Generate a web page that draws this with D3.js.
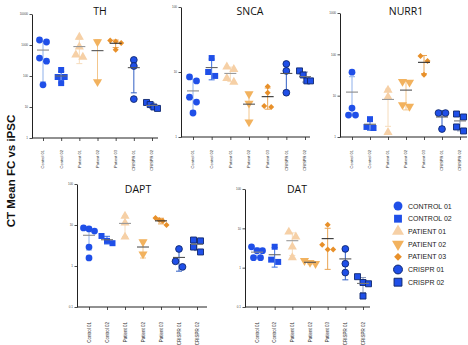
<!DOCTYPE html>
<html>
<head>
<meta charset="utf-8">
<script src="https://cdn.jsdelivr.net/npm/d3@7"></script>
<style>
  body { margin: 0; background: #fff; }
  svg { display: block; font-family: "Liberation Sans", Arial, sans-serif; }
</style>
</head>
<body>
<svg id="chart" width="468" height="345"></svg>
<script>
const groups = ["Control 01", "Control 02", "Patient 01", "Patient 02", "Patient 03", "CRISPR 01", "CRISPR 02"];
const legendLabels = ["CONTROL 01", "CONTROL 02", "PATIENT 01", "PATIENT 02", "PATIENT 03", "CRISPR 01", "CRISPR 02"];

const thValues = [
  [1450, 1250, 380, 300, 52],
  [156, 93, 93, 59],
  [1800, 870, 480, 410],
  [1250, 65],
  [1400, 1300, 1150, 700],
  [330, 210, 18],
  [14, 12, 10, 9]
];
const thTicks = [1, 10, 100, 1000, 10000];

const sncaValues = [
  [8.4, 7.3, 4.1, 3.45, 2.34],
  [16.4, 10, 8.7],
  [12, 11, 8, 7],
  [4.6, 3.3, 1.7],
  [6.0, 4.8, 3.0, 2.9],
  [13.3, 10.4, 4.8],
  [10.4, 9.0, 7.3, 7.3]
];
const sncaTicks = [1, 10, 100];

const nurr1Values = [
  [37, 5.0, 3.4, 3.4],
  [2.7, 1.75, 1.65],
  [13.7, 9.3, 1.3],
  [22, 21, 6, 5.5],
  [91, 69, 32],
  [3.8, 3.8, 1.56],
  [3.6, 3.05, 1.75, 1.4]
];
const nurr1Ticks = [1, 10, 100, 1000];

const daptValues = [
  [8.5, 8, 7.1, 2.9, 1.57],
  [5.4, 4.1, 3.6],
  [16.5, 11.2, 5.1],
  [3.85, 1.96],
  [14.8, 13.2, 12.5, 10],
  [2.6, 1.3, 0.95],
  [4.3, 4.1, 2.9, 2.2]
];
const daptTicks = [0.1, 1, 10, 100];

const datValues = [
  [3.4, 2.7, 2.7, 1.8, 1.8],
  [3.4, 1.6, 1.4],
  [8.1, 6.1, 3.4, 1.8],
  [1.5, 1.35, 1.26],
  [12.3, 3.8, 2.9, 2.9],
  [3.0, 1.26, 0.75],
  [0.59, 0.42, 0.39, 0.19]
];
const datTicks = [0.1, 1, 10, 100];

// per-group marker styling
const styles = [
  { shape: d3.symbolCircle,   fill: "#1f4fe8", stroke: "none",    bar: "#8fb0ea", mean: "#8a8a8a" },
  { shape: d3.symbolSquare,   fill: "#1f4fe8", stroke: "none",    bar: "#3a6ee0", mean: "#666" },
  { shape: d3.symbolTriangle, fill: "#f6d0a6", stroke: "none",    bar: "#f6dcbc", mean: "#9a9a9a" },
  { shape: d3.symbolTriangle, fill: "#f2b25e", stroke: "none",    bar: "#f3c68c", mean: "#555", rot: 180 },
  { shape: d3.symbolSquare,   fill: "#e8902a", stroke: "none",    bar: "#e9a454", mean: "#333", rot: 45, small: true },
  { shape: d3.symbolCircle,   fill: "#1f4fe8", stroke: "#10286e", bar: "#3260c4", mean: "#555" },
  { shape: d3.symbolSquare,   fill: "#1f4fe8", stroke: "#10286e", bar: "#8a98b8", mean: "#777" }
];

// panel frames (layout only)
const panels = [
  { title: "TH",    values: thValues,    ticks: thTicks,    ax: 32,  x0: 43,  x1: 152, xe: 158, yt: 14,  yb: 138, tx: 100, ty: 15,  lab: 12, lfs: 4 },
  { title: "SNCA",  values: sncaValues,  ticks: sncaTicks,  ax: 181, x0: 193, x1: 305, xe: 310, yt: 7,   yb: 137, tx: 250, ty: 15,  lab: 13, lfs: 4 },
  { title: "NURR1", values: nurr1Values, ticks: nurr1Ticks, ax: 340, x0: 352, x1: 460, xe: 467, yt: 13,  yb: 137, tx: 406, ty: 15,  lab: 13, lfs: 4 },
  { title: "DAPT",  values: daptValues,  ticks: daptTicks,  ax: 77,  x0: 89,  x1: 197, xe: 207, yt: 184, yb: 307, tx: 138, ty: 193, lab: 15, lfs: 4.5 },
  { title: "DAT",   values: datValues,   ticks: datTicks,   ax: 245, x0: 257, x1: 363, xe: 370, yt: 189, yb: 307, tx: 297, ty: 193, lab: 15, lfs: 4.5 }
];

const svg = d3.select("#chart");
const sym = d3.symbol();

function jitter(vals, y) {
  // spread points sitting close together in y, within a narrow column
  const idx = vals.map((v, i) => i).sort((a, b) => y(vals[a]) - y(vals[b]));
  const off = new Array(vals.length).fill(0);
  let cluster = [idx[0]];
  const flush = () => {
    const k = cluster.length;
    const step = k > 1 ? Math.min(7, 11 / (k - 1)) : 0;
    cluster.forEach((id, j) => { off[id] = (j - (k - 1) / 2) * step; });
  };
  for (let i = 1; i < idx.length; i++) {
    if (y(vals[idx[i]]) - y(vals[idx[i - 1]]) < 6) cluster.push(idx[i]);
    else { flush(); cluster = [idx[i]]; }
  }
  flush();
  return off;
}

function markTransform(s, px, py) {
  return `translate(${px},${py})${s.rot ? ` rotate(${s.rot})` : ""}`;
}

panels.forEach(p => {
  const g = svg.append("g");
  const x = d3.scalePoint().domain(groups).range([p.x0, p.x1]);
  const y = d3.scaleLog().domain([p.ticks[0], p.ticks[p.ticks.length - 1]]).range([p.yb, p.yt]);

  // y axis
  g.append("g")
    .attr("transform", `translate(${p.ax},0)`)
    .call(d3.axisLeft(y).tickValues(p.ticks).tickSize(2.5).tickSizeOuter(0).tickPadding(1.5).tickFormat(d => String(d)))
    .call(a => a.select(".domain").attr("stroke", "#222").attr("stroke-width", 1))
    .call(a => a.selectAll(".tick line").attr("stroke", "#222").attr("stroke-width", 0.8))
    .call(a => a.selectAll(".tick text").attr("font-size", 3).attr("fill", "#444"));

  // x axis
  g.append("line")
    .attr("x1", p.ax).attr("x2", p.xe).attr("y1", p.yb).attr("y2", p.yb)
    .attr("stroke", "#222").attr("stroke-width", 1);
  g.append("g")
    .attr("transform", `translate(0,${p.yb})`)
    .call(d3.axisBottom(x).tickSize(3).tickFormat(""))
    .call(a => a.select(".domain").remove())
    .call(a => a.selectAll(".tick line").attr("stroke", "#222").attr("stroke-width", 0.8));
  g.selectAll(".xlab").data(groups).join("text")
    .attr("transform", d => `translate(${x(d) + p.lfs * 0.35},${p.yb + p.lab}) rotate(-90)`)
    .attr("text-anchor", "end")
    .attr("font-size", p.lfs)
    .attr("fill", "#333")
    .text(d => d);

  // title
  g.append("text")
    .attr("x", p.tx).attr("y", p.ty)
    .attr("text-anchor", "middle")
    .attr("font-family", "'Open Sans', sans-serif")
    .attr("font-size", 10.5)
    .attr("fill", "#111")
    .text(p.title);

  // groups
  p.values.forEach((vals, gi) => {
    const s = styles[gi];
    const cx = x(groups[gi]);
    const mean = d3.mean(vals);
    const sd = vals.length > 1 ? d3.deviation(vals) : 0;
    const hi = mean + sd;
    const lo = mean - sd > 0 ? mean - sd : d3.min(vals);

    // error bar
    g.append("line").attr("x1", cx).attr("x2", cx).attr("y1", y(hi)).attr("y2", y(lo))
      .attr("stroke", s.bar).attr("stroke-width", 1);
    [hi, lo].forEach(v => {
      g.append("line").attr("x1", cx - 3).attr("x2", cx + 3).attr("y1", y(v)).attr("y2", y(v))
        .attr("stroke", s.bar).attr("stroke-width", 1);
    });

    // points
    const off = jitter(vals, y);
    g.selectAll(null).data(vals).join("path")
      .attr("d", sym.type(s.shape).size(s.small ? 18 : 36)())
      .attr("transform", (d, i) => markTransform(s, cx + off[i], y(d)))
      .attr("fill", s.fill)
      .attr("stroke", s.stroke)
      .attr("stroke-width", 0.9);

    // mean line
    g.append("line").attr("x1", cx - 6).attr("x2", cx + 6).attr("y1", y(mean)).attr("y2", y(mean))
      .attr("stroke", s.mean).attr("stroke-width", 1.1);
  });
});

// y label
svg.append("text")
  .attr("transform", "translate(15,171) rotate(-90)")
  .attr("text-anchor", "middle")
  .attr("font-weight", "bold")
  .attr("font-size", 11.5)
  .attr("fill", "#111")
  .text("CT Mean FC vs iPSC");

// legend
const legend = svg.append("g");
legendLabels.forEach((t, i) => {
  const s = styles[i];
  const ly = 206 + i * 12.7;
  legend.append("path")
    .attr("d", sym.type(s.shape).size(s.small ? 30 : 62)())
    .attr("transform", markTransform(s, 398, ly))
    .attr("fill", s.fill)
    .attr("stroke", s.stroke)
    .attr("stroke-width", 1);
  legend.append("text")
    .attr("x", 408).attr("y", ly + 2.5)
    .attr("font-size", 7)
    .attr("fill", "#222")
    .text(t);
});
</script>
</body>
</html>
